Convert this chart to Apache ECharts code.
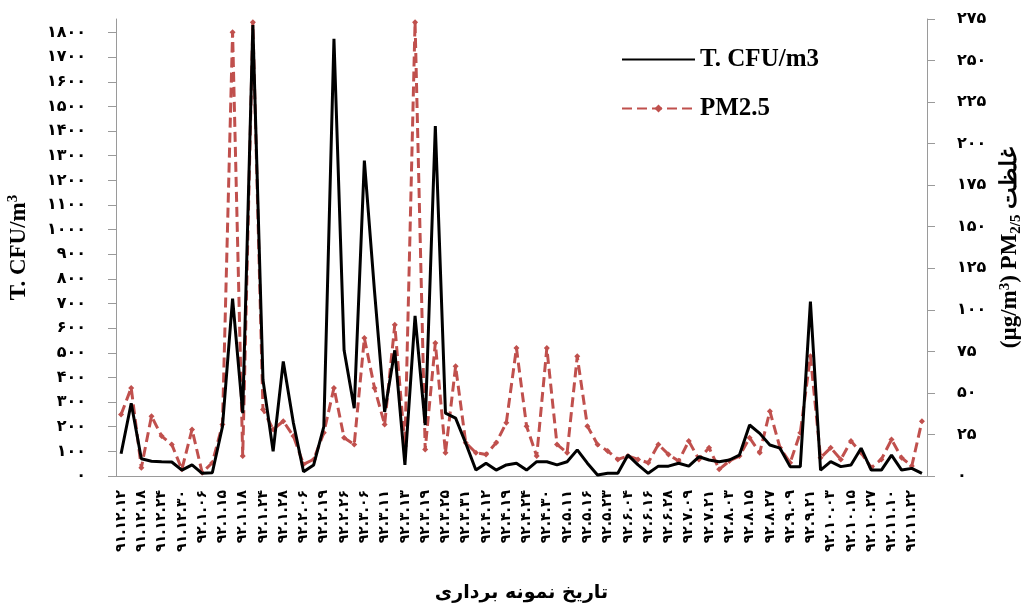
<!DOCTYPE html>
<html><head><meta charset="utf-8">
<script src="https://cdn.jsdelivr.net/npm/echarts@6/dist/echarts.min.js"></script>
<style>html,body{margin:0;padding:0;background:#fff}#c{width:1022px;height:610px}</style>
</head><body><div id="c"></div>
<script>
// labelled sampling dates (every other sample on the axis)
const dateLabels = [
  '۹۱.۱۲.۱۲','۹۱.۱۲.۱۸','۹۱.۱۲.۲۴','۹۱.۱۲.۳۰','۹۲.۱.۰۶','۹۲.۱.۱۵','۹۲.۱.۱۸','۹۲.۱.۲۴',
  '۹۲.۱.۲۸','۹۲.۲.۰۶','۹۲.۲.۱۹','۹۲.۲.۲۶','۹۲.۳.۰۶','۹۲.۳.۱۱','۹۲.۳.۱۳','۹۲.۳.۱۹',
  '۹۲.۳.۲۵','۹۲.۳.۳۱','۹۲.۴.۱۲','۹۲.۴.۱۹','۹۲.۴.۲۴','۹۲.۴.۳۰','۹۲.۵.۱۱','۹۲.۵.۱۶',
  '۹۲.۵.۲۳','۹۲.۶.۰۴','۹۲.۶.۱۶','۹۲.۶.۲۸','۹۲.۷.۰۹','۹۲.۷.۲۱','۹۲.۸.۰۳','۹۲.۸.۱۵',
  '۹۲.۸.۲۷','۹۲.۹.۰۹','۹۲.۹.۲۱','۹۲.۱۰.۰۳','۹۲.۱۰.۱۵','۹۲.۱۰.۲۷','۹۲.۱۱.۱۰','۹۲.۱۱.۲۲'
];
// T. CFU/m3 (left axis)
const cfu = [
  90,295,70,60,58,57,24,45,11,13,
  200,720,255,1830,390,100,465,215,17,45,
  200,1775,510,275,1280,750,260,510,45,650,
  207,1420,255,235,133,24,52,24,45,52,
  24,58,58,45,58,106,52,4,11,11,
  85,45,11,40,40,52,40,78,65,58,
  65,85,207,173,126,113,38,38,708,24,
  58,38,45,113,24,24,85,24,31,11
];
// PM2.5 (right axis)
const pm25 = [
  37,53,5,36,24,19,4,28,2,8,
  31,267,12,273,40,28,33,24,7,10,
  26,53,23,19,83,53,31,91,18,273,
  16,80,14,66,20,14,13,20,32,77,
  30,12,77,19,14,72,30,19,15,10,
  12,10,8,19,13,9,21,10,17,4,
  9,12,23,14,39,17,8,26,72,11,
  17,10,21,14,5,10,22,11,6,33
];
const leftTicks = [0,100,200,300,400,500,600,700,800,900,1000,1100,1200,1300,1400,1500,1600,1700,1800];
const rightTicks = [0,25,50,75,100,125,150,175,200,225,250,275];

const faDigits = '۰۱۲۳۴۵۶۷۸۹';
const fa = v => String(v).replace(/\d/g, d => faDigits[d]);
const categories = cfu.map((_, i) => (i % 2 === 0 ? dateLabels[i / 2] : ''));

const axisGray = '#9a9a9a';
const red = '#C0504D';
const serifBold = { fontFamily: 'Liberation Serif', fontWeight: 'bold', color: '#000' };
const chart = echarts.init(document.getElementById('c'));
chart.setOption({
  animation: false,
  backgroundColor: '#fff',
  grid: { left: 116, right: 95, top: 19, bottom: 134, containLabel: false, outerBoundsMode: 'none' },
  legend: {
    orient: 'vertical', left: 616, top: 42,
    itemWidth: 73, itemHeight: 10, itemGap: 24,
    textStyle: Object.assign({ fontSize: 25 }, serifBold),
    data: [{ name: 'T. CFU/m3', itemStyle: { opacity: 0 } }, { name: 'PM2.5' }]
  },
  xAxis: {
    type: 'category', data: categories, boundaryGap: true,
    name: 'تاریخ نمونه برداری', nameLocation: 'middle', nameGap: 108,
    nameTextStyle: { fontFamily: 'DejaVu Sans', fontWeight: 'bold', fontSize: 19, color: '#000' },
    axisLine: { lineStyle: { color: axisGray, width: 1 } },
    axisTick: { interval: 0, length: 7, lineStyle: { color: axisGray } },
    axisLabel: { interval: 0, rotate: 90, margin: 14, fontFamily: 'DejaVu Sans', fontWeight: 'bold', fontSize: 14, color: '#000' },
    splitLine: { show: false }
  },
  yAxis: [{
    type: 'value', min: 0, max: 1855, interval: 100, position: 'left',
    name: '{a|T. CFU/m}{s|3}', nameLocation: 'middle', nameGap: 84,
    nameTextStyle: {
      rich: {
        a: Object.assign({ fontSize: 23 }, serifBold),
        s: Object.assign({ fontSize: 15, verticalAlign: 'top', lineHeight: 26 }, serifBold)
      }
    },
    axisLine: { show: true, lineStyle: { color: axisGray } },
    axisTick: { show: true, length: 8, customValues: leftTicks, lineStyle: { color: axisGray } },
    axisLabel: { customValues: leftTicks, margin: 30, formatter: v => fa(v), fontFamily: 'DejaVu Sans', fontWeight: 'bold', fontSize: 16, color: '#000' },
    splitLine: { show: false }
  }, {
    type: 'value', min: 0, max: 275, interval: 25, position: 'right',
    name: '{a|(µg/m}{s|3}{a|) PM}{b|2/5}{a| غلظت}', nameLocation: 'middle', nameGap: 70,
    nameTextStyle: {
      rich: {
        a: Object.assign({ fontSize: 23 }, serifBold),
        s: Object.assign({ fontSize: 15, verticalAlign: 'top', lineHeight: 26 }, serifBold),
        b: Object.assign({ fontSize: 15, verticalAlign: 'bottom', lineHeight: 26 }, serifBold)
      }
    },
    axisLine: { show: true, lineStyle: { color: axisGray } },
    axisTick: { show: true, length: 8, customValues: rightTicks, lineStyle: { color: axisGray } },
    axisLabel: { customValues: rightTicks, margin: 30, formatter: v => fa(v), fontFamily: 'DejaVu Sans', fontWeight: 'bold', fontSize: 16, color: '#000' },
    splitLine: { show: false }
  }],
  series: [{
    name: 'T. CFU/m3', type: 'line', yAxisIndex: 0, data: cfu,
    symbol: 'none', lineStyle: { color: '#000', width: 3 }, itemStyle: { color: '#000' }, z: 3
  }, {
    name: 'PM2.5', type: 'line', yAxisIndex: 1, data: pm25,
    symbol: 'diamond', symbolSize: 6, showSymbol: true,
    lineStyle: { color: red, width: 3, type: [10, 5] }, itemStyle: { color: red }, z: 2
  }]
});
</script></body></html>
